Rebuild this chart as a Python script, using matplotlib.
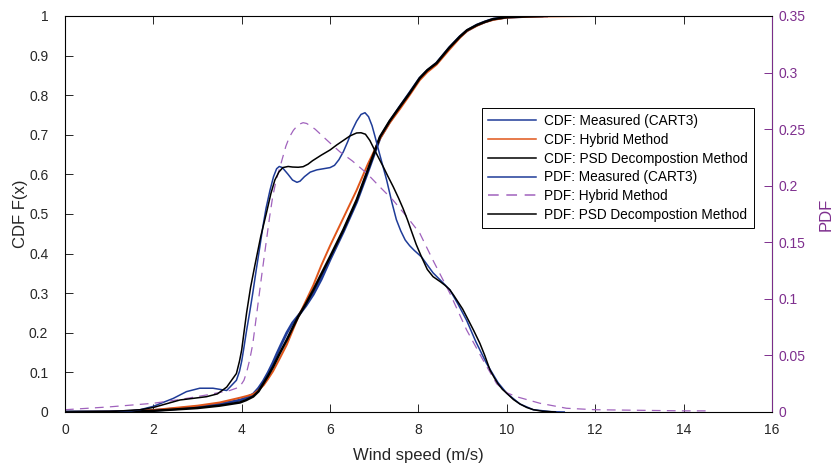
import matplotlib.pyplot as plt

plt.rcParams['font.family'] = ['Liberation Sans', 'DejaVu Sans']

# CDF curves (wind speed m/s, F(x))
cdf_meas_x = [0, 1, 1.5, 2, 2.5, 3, 3.5, 3.96, 4.1, 4.26, 4.38, 4.49, 4.6, 4.71, 4.8,
              4.9, 5.02, 5.15, 5.28, 5.45, 5.62, 5.8, 6.0, 6.3, 6.6, 6.85, 7.13, 7.35,
              7.58, 7.8, 8.03, 8.2, 8.41, 8.7, 8.94, 9.1, 9.32, 9.5, 9.69, 10.0, 10.5, 10.9]
cdf_meas_y = [0, 0.0005, 0.002, 0.004, 0.008, 0.013, 0.02, 0.03, 0.036, 0.045, 0.06, 0.078,
              0.1, 0.125, 0.148, 0.172, 0.2, 0.225, 0.243, 0.268, 0.297, 0.335, 0.385,
              0.455, 0.53, 0.605, 0.692, 0.733, 0.771, 0.806, 0.843, 0.862, 0.881, 0.92,
              0.948, 0.963, 0.977, 0.985, 0.992, 0.997, 0.999, 1.0]

cdf_hyb_x = [0, 1, 2, 3, 3.5, 3.96, 4.1, 4.26, 4.38, 4.5, 4.6, 4.71, 4.86, 5.02, 5.15,
             5.28, 5.45, 5.62, 5.8, 6.0, 6.3, 6.6, 6.85, 7.13, 7.35, 7.58, 7.8, 8.03, 8.2,
             8.41, 8.7, 8.94, 9.1, 9.32, 9.5, 9.69, 10.0, 10.5, 11.0, 12.0, 13.6]
cdf_hyb_y = [0, 0.0005, 0.005, 0.016, 0.024, 0.036, 0.04, 0.045, 0.055, 0.068, 0.084,
             0.103, 0.135, 0.17, 0.205, 0.24, 0.28, 0.32, 0.37, 0.42, 0.49, 0.56, 0.625,
             0.69, 0.73, 0.765, 0.8, 0.838, 0.858, 0.877, 0.915, 0.945, 0.962, 0.975,
             0.984, 0.99, 0.996, 0.998, 0.999, 1.0, 1.0]

cdf_psd_x = [0, 1.5, 2, 3, 3.5, 3.96, 4.1, 4.26, 4.38, 4.49, 4.6, 4.71, 4.86, 5.02, 5.15,
             5.28, 5.45, 5.62, 5.8, 6.0, 6.3, 6.6, 6.85, 7.13, 7.35, 7.58, 7.8, 8.03, 8.2,
             8.41, 8.7, 8.94, 9.1, 9.32, 9.5, 9.69, 10.0, 10.5, 10.8]
cdf_psd_y = [0, 0.001, 0.003, 0.01, 0.016, 0.024, 0.03, 0.039, 0.052, 0.072, 0.092, 0.114,
             0.148, 0.182, 0.212, 0.241, 0.273, 0.308, 0.348, 0.392, 0.46, 0.535, 0.61,
             0.695, 0.735, 0.771, 0.805, 0.843, 0.863, 0.881, 0.92, 0.948, 0.964, 0.977,
             0.985, 0.992, 0.997, 0.999, 1.0]

# PDF curves
pdf_meas_x = [0, 1, 1.5, 1.7, 2, 2.45, 2.75, 3.05, 3.35, 3.66, 3.88, 3.95, 4.0, 4.05,
              4.11, 4.18, 4.25, 4.33, 4.41, 4.48, 4.55, 4.64, 4.72, 4.79, 4.85, 4.92, 5.05,
              5.15, 5.25, 5.32, 5.42, 5.55, 5.7, 5.85, 6.0, 6.1, 6.2, 6.3, 6.4, 6.5, 6.6,
              6.7, 6.79, 6.87, 6.95, 7.02, 7.1, 7.19, 7.28, 7.4, 7.5, 7.6, 7.7, 7.8, 7.9,
              8.07, 8.33, 8.56, 8.71, 8.9, 9.09, 9.3, 9.54, 9.8, 10.0, 10.3, 10.6, 11.0, 11.3]
pdf_meas_y = [0, 0.0003, 0.001, 0.002, 0.005, 0.012, 0.018, 0.021, 0.021, 0.019, 0.028,
              0.036, 0.045, 0.057, 0.072, 0.088, 0.105, 0.126, 0.146, 0.164, 0.18, 0.196,
              0.208, 0.215, 0.217, 0.216, 0.21, 0.205, 0.203, 0.204, 0.208, 0.212, 0.214,
              0.215, 0.216, 0.218, 0.223, 0.23, 0.239, 0.249, 0.257, 0.263, 0.2645, 0.261,
              0.253, 0.243, 0.231, 0.218, 0.205, 0.185, 0.17, 0.16, 0.152, 0.147, 0.143,
              0.137, 0.123, 0.114, 0.108, 0.095, 0.081, 0.062, 0.043, 0.026, 0.0165, 0.007,
              0.002, 0.0003, 0]

pdf_hyb_x = [0, 1, 2, 2.6, 3.2, 3.73, 3.95, 4.05, 4.11, 4.18, 4.25, 4.34, 4.45, 4.56, 4.63,
             4.7, 4.78, 4.87, 5.0, 5.08, 5.17, 5.28, 5.39, 5.47, 5.55, 5.66, 5.77, 5.88,
             6.0, 6.22, 6.5, 6.83, 7.1, 7.43, 7.75, 8.03, 8.33, 8.71, 9.09, 9.46, 9.77,
             10.0, 10.22, 10.75, 11.35, 12.0, 13.0, 14.0, 14.6]
pdf_hyb_y = [0.002, 0.0045, 0.0077, 0.011, 0.015, 0.019, 0.022, 0.028, 0.035, 0.046, 0.06,
             0.087, 0.12, 0.152, 0.172, 0.19, 0.205, 0.217, 0.235, 0.243, 0.249, 0.254,
             0.2557, 0.255, 0.253, 0.25, 0.246, 0.242, 0.2377, 0.23, 0.222, 0.211, 0.2,
             0.187, 0.172, 0.158, 0.134, 0.105, 0.0725, 0.046, 0.025, 0.017, 0.0135,
             0.0077, 0.0033, 0.002, 0.0015, 0.001, 0.001]

pdf_psd_x = [0, 1, 1.7, 2, 2.6, 3.2, 3.45, 3.66, 3.88, 3.95, 4.0, 4.05, 4.11, 4.2, 4.3,
             4.43, 4.56, 4.66, 4.75, 4.84, 4.93, 5.05, 5.15, 5.28, 5.39, 5.5, 5.6, 5.8,
             6.0, 6.15, 6.3, 6.45, 6.6, 6.7, 6.8, 6.9, 6.97, 7.08, 7.2, 7.3, 7.43, 7.55,
             7.65, 7.75, 7.84, 7.95, 8.07, 8.2, 8.33, 8.5, 8.6, 8.71, 8.8, 8.9, 9.0, 9.09,
             9.25, 9.39, 9.5, 9.62, 9.72, 9.8, 9.9, 10.0, 10.15, 10.3, 10.45, 10.6, 10.8,
             11.1]
pdf_psd_y = [0, 0.0003, 0.002, 0.004, 0.0106, 0.0135, 0.016, 0.022, 0.034, 0.045, 0.055,
             0.07, 0.0875, 0.11, 0.13, 0.155, 0.176, 0.193, 0.205, 0.212, 0.216, 0.217,
             0.2165, 0.2163, 0.2168, 0.219, 0.222, 0.227, 0.2316, 0.236, 0.24, 0.244,
             0.2466, 0.2468, 0.2455, 0.24, 0.2345, 0.226, 0.217, 0.209, 0.199, 0.189,
             0.18, 0.17, 0.16, 0.148, 0.137, 0.126, 0.1196, 0.115, 0.112, 0.108, 0.103,
             0.097, 0.091, 0.0842, 0.072, 0.0607, 0.05, 0.037, 0.03, 0.025, 0.02, 0.0165,
             0.011, 0.007, 0.004, 0.002, 0.0007, 0]

x_ticks = [0, 2, 4, 6, 8, 10, 12, 14, 16]
cdf_ticks = [0, 0.1, 0.2, 0.3, 0.4, 0.5, 0.6, 0.7, 0.8, 0.9, 1]
cdf_tick_labels = ['0', '0.1', '0.2', '0.3', '0.4', '0.5', '0.6', '0.7', '0.8', '0.9', '1']
pdf_ticks = [0, 0.05, 0.1, 0.15, 0.2, 0.25, 0.3, 0.35]
pdf_tick_labels = ['0', '0.05', '0.1', '0.15', '0.2', '0.25', '0.3', '0.35']

BLUE = '#1f3c98'
ORANGE = '#e0561a'
PURPLE = '#7e2f8e'
DASH = '#a062bd'
GREY = '#262626'

fig = plt.figure(figsize=(8.33, 4.66), dpi=100)
ax = fig.add_axes([0.078, 0.1159, 0.8487, 0.8498])

h1, = ax.plot(cdf_meas_x, cdf_meas_y, color=BLUE, lw=2.0, label='CDF: Measured (CART3)')
h2, = ax.plot(cdf_hyb_x, cdf_hyb_y, color=ORANGE, lw=1.4, label='CDF: Hybrid Method')
h3, = ax.plot(cdf_psd_x, cdf_psd_y, color='black', lw=1.8, label='CDF: PSD Decompostion Method')

ax.set_xlim(0, 16)
ax.set_ylim(0, 1)
ax.set_xticks(x_ticks)
ax.set_xticklabels([str(t) for t in x_ticks])
ax.set_yticks(cdf_ticks)
ax.set_yticklabels(cdf_tick_labels)
ax.tick_params(axis='x', direction='in', length=6, width=0.7, pad=8, labelsize=10,
               colors=GREY, top=True)
ax.tick_params(axis='y', direction='in', length=5.5, width=0.7, pad=12, labelsize=10,
               colors=GREY, right=False)
for s in ['left', 'bottom', 'top']:
    ax.spines[s].set_color(GREY)
    ax.spines[s].set_linewidth(0.7)
ax.set_xlabel('Wind speed (m/s)', fontsize=12, color=GREY, labelpad=8)
ax.set_ylabel('CDF F(x)', fontsize=12, color=GREY, labelpad=1)

ax2 = ax.twinx()
h4, = ax2.plot(pdf_meas_x, pdf_meas_y, color=BLUE, lw=1.1, label='PDF: Measured (CART3)')
h5, = ax2.plot(pdf_hyb_x, pdf_hyb_y, color=DASH, lw=0.9, dashes=(7, 5),
               label='PDF: Hybrid Method')
h6, = ax2.plot(pdf_psd_x, pdf_psd_y, color='black', lw=1.1, label='PDF: PSD Decompostion Method')
ax2.set_ylim(0, 0.35)
ax2.set_yticks(pdf_ticks)
ax2.set_yticklabels(pdf_tick_labels)
ax2.tick_params(axis='y', direction='in', length=5.5, width=0.7, pad=5, labelsize=10,
                colors=PURPLE)
ax2.spines['right'].set_color(PURPLE)
ax2.spines['right'].set_linewidth(0.7)
ax2.set_ylabel('PDF', fontsize=12, color=PURPLE, labelpad=9)

leg = ax2.legend(handles=[h1, h2, h3, h4, h5, h6], loc='upper right',
                 bbox_to_anchor=(0.9745, 0.768), borderaxespad=0, fontsize=9.8,
                 fancybox=False, framealpha=1, edgecolor='black', handlelength=3.5,
                 handletextpad=0.6, labelspacing=0.35, borderpad=0.45)
leg.get_frame().set_linewidth(0.7)
for line in leg.get_lines():
    line.set_linewidth(1.1)

fig.savefig('out.png', dpi=100)
